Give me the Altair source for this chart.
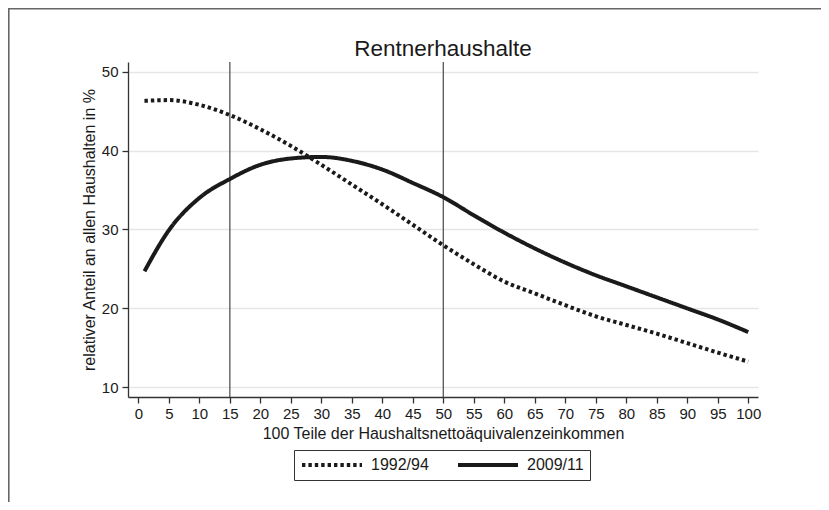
import altair as alt
import pandas as pd

# ---- data ----
pct = [1, 5, 10, 15, 20, 25, 30, 35, 40, 45, 50, 55, 60, 65, 70, 75, 80, 85, 90, 95, 100]
v1992 = [46.3, 46.4, 45.8, 44.5, 42.7, 40.6, 38.2, 35.7, 33.2, 30.6, 28.0, 25.6, 23.4,
         21.9, 20.4, 19.0, 17.9, 16.8, 15.6, 14.4, 13.25]
v2009 = [24.7, 29.9, 34.0, 36.4, 38.2, 39.0, 39.2, 38.7, 37.6, 35.9, 34.1, 31.8, 29.6,
         27.6, 25.8, 24.2, 22.8, 21.4, 20.0, 18.6, 17.0]
series = ["1992/94", "2009/11"]
vlines = [15, 50]
x_ticks = list(range(0, 101, 5))
y_ticks = [10, 20, 30, 40, 50]
title_text = "Rentnerhaushalte"
x_title = "100 Teile der Haushaltsnettoäquivalenzeinkommen"
y_title = "relativer Anteil an allen Haushalten in %"

rows = []
for s, vals in zip(series, [v1992, v2009]):
    for p, v in zip(pct, vals):
        rows.append({"pct": p, "val": v, "series": s})
df = pd.DataFrame(rows)
df_v = pd.DataFrame({"pct": vlines})

FONT = "Liberation Sans"
INK = "#1a1a1a"

xscale = alt.Scale(domain=[-1.7, 101.6], nice=False, zero=False)
yscale = alt.Scale(domain=[8.77, 51.23], nice=False, zero=False)

x_axis = alt.Axis(values=x_ticks, title=x_title, grid=False, labelFlush=False,
                  labelPadding=3, titlePadding=4)
y_axis = alt.Axis(values=y_ticks, title=y_title, grid=True, gridColor="#e6e6e6",
                  gridWidth=1.5, labelPadding=4, titleX=-34, titleY=167.5,
                  titleBaseline="alphabetic", titleAlign="center")

x_enc = alt.X("pct:Q", scale=xscale, axis=x_axis)

# outer frame of the figure (left and top edges, at the edge of the drawing)
frame_left = alt.Chart(pd.DataFrame({"k": [0]})).mark_rule(
    color="#666666", strokeWidth=1.6).encode(
    x=alt.value(-119.2), y=alt.value(-53.2), y2=alt.value(470))
frame_top = alt.Chart(pd.DataFrame({"k": [0]})).mark_rule(
    color="#666666", strokeWidth=1.6).encode(
    x=alt.value(-120), x2=alt.value(720), y=alt.value(-53.2))

rules = alt.Chart(df_v).mark_rule(color="#555555", strokeWidth=1.3).encode(x=x_enc)

lines = alt.Chart(df).mark_line(strokeWidth=4, color=INK, interpolate="monotone",
                                strokeCap="butt").encode(
    x=x_enc,
    y=alt.Y("val:Q", scale=yscale, axis=y_axis),
    strokeDash=alt.StrokeDash(
        "series:N",
        scale=alt.Scale(domain=series, range=[[3.4, 3], [1, 0]]),
        legend=alt.Legend(
            title=None, orient="none", legendX=166, legendY=388,
            direction="horizontal", symbolType="stroke", symbolSize=3600,
            symbolStrokeWidth=4, symbolStrokeColor=INK, clipHeight=18,
            labelFont=FONT, labelFontSize=16, labelColor=INK, labelOffset=7,
            columnPadding=27, padding=6, strokeColor="#333333",
            fillColor="white", cornerRadius=0,
        ),
    ),
    detail="series:N",
)

chart = alt.layer(frame_left, frame_top, rules, lines).properties(
    width=630,
    height=335,
    autosize="none",
    padding={"left": 120, "top": 54, "right": 63, "bottom": 105},
    title=alt.TitleParams(title_text, font=FONT, fontSize=22.5, fontWeight="normal",
                          color=INK, anchor="middle", offset=6, frame="group",
                          dy=58),
).configure_view(stroke=None).configure_axis(
    domainColor="#333333", domainWidth=1.3, tickColor="#333333", tickWidth=1.3,
    tickSize=6, labelFont=FONT, labelFontSize=15, labelColor=INK,
    titleFont=FONT, titleFontSize=16, titleFontWeight="normal", titleColor=INK,
)

chart.save("out.html", embed_options={"renderer": "svg", "actions": False})
